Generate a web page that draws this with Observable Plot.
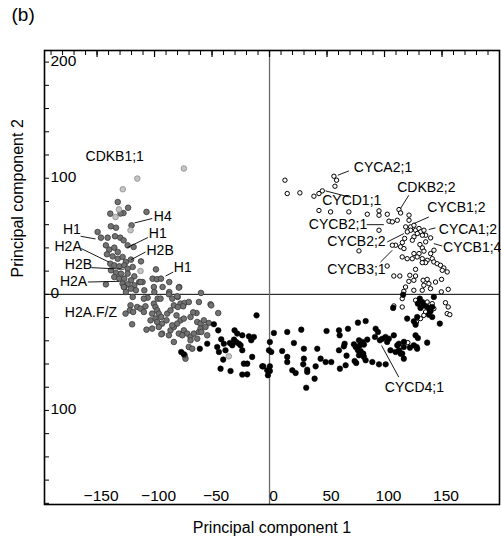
<!DOCTYPE html>
<html><head><meta charset="utf-8">
<script src="https://cdn.jsdelivr.net/npm/d3@7"></script>
<script src="https://cdn.jsdelivr.net/npm/@observablehq/plot@0.6"></script>
<style>html,body{margin:0;padding:0;background:#fff;} svg{display:block;}</style>
</head><body><div id="chart"></div>
<script>
// Principal component scores [PC1, PC2] per gene group
const lightGrayPts = [[-74.5,108.4],[-115,99.7],[-127.6,90.5],[-131,73.2],[-133.9,66.6],[-120.9,55.2],[-112.2,20.1],[-35.4,-53.4]];
const grayPts = [[-132,79.5],[-123,74.6],[-127,70],[-138.5,69.5],[-107,71],[-120,59.4],[-138,58.6],[-133.5,57.4],[-149.5,53.7],[-146.6,48.8],[-140.8,48.8],[-134.4,50],[-129.8,48.8],[-126.9,46.5],[-123.4,42.2],[-118.2,40.8],[-142.3,42.2],[-139.4,38.5],[-135,40.2],[-132,36.5],[-141.4,34.5],[-136.5,32.7],[-132,30.7],[-127.8,32.2],[-124.9,27.9],[-120.5,29.9],[-111.8,28.4],[-138.5,26.4],[-135,25],[-130.7,24.1],[-126.3,25],[-123.4,22.1],[-119,23.6],[-137.9,20.7],[-133.5,18.4],[-129.2,17.8],[-123.4,17.8],[-117.6,15.5],[-135,14.9],[-130.7,13.5],[-126.3,13.5],[-120.5,12.1],[-113.3,10.6],[-142.3,8.6],[-127.8,9.2],[-123.4,8.6],[-117.6,7.8],[-110.4,10.6],[-101.7,13.5],[-97.9,13],[-94.4,13.5],[-87.2,10.6],[-98.8,21.5],[-93,6.3],[-87.2,2],[-78.5,6.3],[-126.3,6.3],[-120.5,4.9],[-124.9,2],[-116.2,3.5],[-108.9,3.5],[-100.2,2],[-79.9,-2.3],[-59.6,1.2],[-119,-2.3],[-106,-2.9],[-97.3,-3.7],[-129.6,69.6],[-51.3,-8.6],[-44.6,-16.1],[-126.7,6.3],[-112.2,10.6],[-100.6,6.3],[-78.9,5.8],[-109.3,-3.7],[-94.8,-3.7],[-87.5,0.0],[-84.6,-3.7],[-80.3,-1.7],[-77.4,-8.0],[-73.9,-7.4],[-70.2,-6.6],[-83.2,-9.5],[-79.7,-10.9],[-75.1,-10.3],[-61.4,-6.6],[-50.7,-9.5],[-120.9,-9.5],[-121.5,-13.8],[-125.2,-16.6],[-118.6,-15.2],[-115.1,-10.9],[-112.2,-12.3],[-109.3,-15.2],[-107.9,-10.3],[-100.6,-8.0],[-99.2,-10.9],[-97.7,-13.8],[-102.1,-16.6],[-96.3,-16.6],[-94.2,-19.5],[-99.2,-20.9],[-103.5,-22.4],[-97.7,-23.8],[-93.4,-25.2],[-89.6,-22.4],[-89.0,-16.6],[-86.1,-13.8],[-80.9,-18.1],[-77.4,-22.4],[-74.5,-20.9],[-68.7,-19.5],[-63.5,-16.1],[-66.4,-15.5],[-62.9,-23.8],[-60.0,-25.2],[-57.1,-22.4],[-52.8,-24.7],[-119.5,-25.8],[-107.0,-30.4],[-102.1,-29.5],[-96.3,-28.1],[-93.4,-33.8],[-86.1,-31.0],[-83.2,-28.1],[-80.3,-25.2],[-78.9,-33.8],[-84.6,-26.7],[-74.5,-31.0],[-71.6,-33.8],[-68.7,-36.7],[-65.8,-33.8],[-61.4,-32.4],[-60.0,-29.5],[-55.7,-28.1],[-54.2,-35.3],[-62.9,-38.2],[-68.7,-39.6],[-83.2,-41.0],[-70.2,-45.3],[-67.2,-46.8],[-73.1,-55.4],[-94.1,-34.4],[-87.5,-35.3],[-75.9,-35.3],[-59.3,-32.4],[-73.8,-52.5]];
const blackPts = [[-11.3,-18.1],[-48.4,-25.8],[-44.6,-31.0],[-42.0,-38.7],[-39.7,-42.5],[-34.5,-41.9],[-30.4,-31.0],[-28.1,-33.8],[-23.7,-35.3],[-29.0,-41.0],[-25.2,-43.9],[-38.3,-48.2],[-45.5,-45.3],[-44.0,-49.6],[-40.3,-56.2],[-32.4,-43.9],[-26.6,-42.5],[-23.7,-48.2],[-15.9,-39.6],[-13.6,-36.7],[-15.1,-53.9],[-22.3,-59.7],[-19.4,-59.7],[-6.3,-62.0],[-2.0,-65.4],[-42.6,-64.0],[-33.9,-66.0],[-23.7,-69.1],[-19.4,-68.9],[-54.2,-42.5],[-60.6,-46.8],[-76.8,-49.6],[-74.5,-51.6],[-30.9,-39],[-17.9,-36.2],
[3.8,-33.3],[15.4,-32.4],[27.6,-30.4],[0.3,-41.0],[-0.5,-48.2],[1.5,-49.6],[0.3,-62.0],[-5.5,-62],[0.3,-66],[-1.4,-69.7],[11.0,-48.8],[15.4,-53.9],[15.4,-58.3],[21.2,-41.9],[19.8,-65.4],[22.7,-67.7],[29.9,-46.8],[29.9,-55.4],[29.3,-60.3],[32.8,-64.9],[32.8,-66.9],[40.1,-62.0],[39.2,-72.6],[31.9,-80.4],[41.5,-46.8],[44.4,-55.4],[48.8,-58.3],[53.7,-58.3],[49.6,-31.6],[60.4,-31.0],[61.0,-35.3],[68.2,-29.6],[65.3,-42.5],[64.7,-44.8],[60.4,-48.2],[67.0,-52.8],[61.2,-64.0],[66.2,-61.1],[74.0,-57.4],[75.4,-59.1],[73.4,-43.0],[74.9,-45.3],[77.8,-39.6],[80.7,-41.0],[78.6,-43.9],[76.9,-48.2],[79.2,-48.8],[81.5,-51.1],[77.8,-52.5],[82.1,-53.9],[83.6,-56.8],[85.0,-39.0],[82.1,-43.3],[76.9,-24.4],[83.6,-23.0],[89.4,-58.3],[95.2,-60.3],[101,-60.3],[92.3,-29.6],[94.3,-32.4],[91.7,-36.7],[98.1,-38.2],[96,-39.6],[111.1,-43.9],[112.6,-48.2],[114,-51.1],[122.1,-45.9],[127.9,-45.3],
[116.2,-0.3],[107.5,-11.7],[130.7,-3.7],[132.8,-6.6],[129,-8],[134.2,-9.5],[131.3,-11.7],[137.1,-10.9],[139.4,-12.9],[141.5,-10.9],[142.9,-2.3],[140,-14.6],[138.6,-17.5],[141.5,-19.5],[128.4,-19.5],[125.5,-23.2],[119.7,-20.9],[127,-26.1],[148.1,-25.2],[100.9,-36.7],[103.8,-38.2],[102.3,-41],[108.1,-35.3],[112.5,-42.5],[116.8,-45.3],[115.4,-51.1],[105.2,-48.2],[109.6,-49.6],[127,-35.3],[129,-37.6],[125.5,-43.9],[128.4,-46.8],[137.1,-41.6],[116.8,-55.4],[116.9,-40.9]];
const openPts = [[13.4,98.3],[15.4,86.8],[26.4,87.4],[38.6,84.5],[43,86.8],[45.9,89.1],[43,72.2],[53.1,71],[69,71],[56,101.7],[58.3,98.3],[56.9,93.1],[77.8,37.4],[85,69],[95.2,68.1],[95.2,55.2],[102.4,69],[95.2,71.9],[103.9,63],[111.1,63.8],[112.6,73],[114,70.1],[106.8,62.4],[149.4,2.1],
[121.3,68.2],[121.3,63.8],[118.4,58.1],[122.7,58.1],[125.6,59.5],[127,55.2],[122.7,55.2],[119.8,53.8],[130,56.7],[131.4,53.8],[134.3,55.2],[135.8,50.9],[132.9,50.9],[128.5,52.4],[125.6,49.5],[124.2,46.6],[117.5,48.1],[115.5,44.6],[114,40.9],[116.9,39.4],[109.7,42.3],[106.8,42.3],[140.1,48.6],[135.8,45.2],[130.8,42.9],[132.9,40],[134.3,37.2],[130,35.1],[125.6,35.1],[140.1,35.1],[143,38],
[102.3,24.4],[108.1,15.8],[113.3,15.8],[116.8,2.6],[115.4,-3.7],[118.3,6.3],[121.2,11.2],[125.5,12.1],[122,16.4],[127,15.8],[127,21.5],[125.5,3.5],[132.8,3.5],[134.2,7.8],[133.6,12.1],[137.1,12.9],[138.6,9.2],[140,4.9],[144.4,10.6],[149.6,12.9],[155.4,4.3],[127,-5.1],[137.1,-6.6],[141.5,-8],[142.9,-12.3],[135.7,-15.2],[134.2,-18.1],[131.3,-20.9],[127.8,-23.8],[153,-7.2],[155.4,-10.9],[154.5,-16.6],[156.8,-17.5],[108.1,-10],[115.4,-10.9],[120.3,-41.6],[115.4,32.2],[119.7,30.7],[124.1,30.7],[128.4,32.2],[132.8,30.7],[137.1,29.3],[135.7,27.3],[132.8,27.3],[141.5,30.7],[142.9,27.9],[145.8,26.4],[148.7,25],[151.6,22.7],[154.5,19.3],[150.2,20.7]];

// Axis ticks and labels
const yTickVals = d3.range(-180, 201, 20);
const yLabelVals = [200, 100, 0, -100];
const xMinorTicks = d3.range(-190, 200, 10);
const xMajorTicks = [-150, -100, -50, 0, 50, 100, 150];
const xLabelVals = [-150, -100, -50, 0, 50, 100, 150];

// Gene annotations: label anchor and leader line (PC units)
const annotations = [
  {text:"CDKB1;1", x:-160, y:118.4},
  {text:"H4", x:-100.6, y:66.6, x1:-117.4, y1:61.5, x2:-102, y2:65.3},
  {text:"H1", x:-179.7, y:55.8, x1:-164.3, y1:50, x2:-151.3, y2:47.7},
  {text:"H1", x:-105, y:52.8, x1:-105.8, y1:48.9, x2:-123.7, y2:40.3},
  {text:"H2A", x:-187, y:40.8, x1:-163.7, y1:39.4, x2:-139.7, y2:27.8},
  {text:"H2B", x:-107, y:37.9, x1:-107.8, y1:36.5, x2:-120.3, y2:29.9},
  {text:"H2B", x:-178, y:25.9, x1:-155, y1:23, x2:-126.7, y2:21.6},
  {text:"H2A", x:-182.3, y:11.2, x1:-158, y1:10.6, x2:-131, y2:11.2},
  {text:"H1", x:-83.2, y:23, x1:-83.7, y1:19.2, x2:-90.4, y2:15.8},
  {text:"H2A.F/Z", x:-178, y:-15.8},
  {text:"CYCA2;1", x:73.3, y:109.2, x1:59.4, y1:102.6, x2:69, y2:106.3},
  {text:"CYCD1;1", x:45.8, y:80.4, x1:48.7, y1:89.1, x2:69, y2:83.9},
  {text:"CDKB2;2", x:111, y:91.6, x1:121.1, y1:85.3, x2:113.9, y2:73.9},
  {text:"CYCB1;2", x:137.1, y:74.7, x1:138.5, y1:66.6, x2:125.5, y2:60.9},
  {text:"CYCA1;2", x:147.2, y:56, x1:144.3, y1:57.2, x2:138.5, y2:55.8},
  {text:"CYCB2;1", x:34.2, y:60, x1:84.5, y1:60, x2:99.4, y2:60},
  {text:"CYCB2;2", x:50.2, y:45.1, x1:102.3, y1:45.1, x2:116.8, y2:52.3},
  {text:"CYCB1;4", x:150.9, y:40, x1:150.2, y1:41.6, x2:142.9, y2:43.7},
  {text:"CYCB3;1", x:50.2, y:21.6, x1:96.5, y1:27.8, x2:106.7, y2:37.9},
  {text:"CYCD4;1", x:100.3, y:-80.4, x1:112.4, y1:-71.3, x2:97.4, y2:-44}
];

const FONT = "'Liberation Sans', Arial, Helvetica, sans-serif";
const fmtX = d => d < 0 ? "\u2212" + (-d) : String(d);

const chart = Plot.plot({
  width: 501, height: 540,
  marginLeft: 44, marginRight: 2, marginTop: 50, marginBottom: 36,
  x: {domain: [-195.7, 200], axis: null},
  y: {domain: [-181, 210], axis: null},
  style: {fontFamily: FONT, background: "white", color: "black"},
  marks: [
    Plot.ruleY([0], {stroke: "black", strokeWidth: 1}),
    Plot.ruleX([0], {stroke: "#6a6a6a", strokeWidth: 1.3}),
    Plot.tickY(yTickVals, {y: d => d, insetRight: 450, stroke: "black", strokeWidth: 1}),
    Plot.tickX(xMinorTicks, {x: d => d, insetBottom: 449, stroke: "black", strokeWidth: 1}),
    Plot.tickX(xMajorTicks, {x: d => d, insetBottom: 447, stroke: "black", strokeWidth: 1.2}),
    Plot.dot(grayPts, {x: d => d[0], y: d => d[1], r: 2.8, fill: "#727272", stroke: "#3a3a3a", strokeWidth: 0.8}),
    Plot.dot(lightGrayPts, {x: d => d[0], y: d => d[1], r: 2.8, fill: "#c4c4c4", stroke: "#8a8a8a", strokeWidth: 0.8}),
    Plot.dot(openPts, {x: d => d[0], y: d => d[1], r: 2.2, fill: "white", stroke: "black", strokeWidth: 1}),
    Plot.dot(blackPts, {x: d => d[0], y: d => d[1], r: 2.8, fill: "black", stroke: "black", strokeWidth: 0.5}),
    Plot.link(annotations.filter(d => d.x1 != null), {x1: "x1", y1: "y1", x2: "x2", y2: "y2", stroke: "black", strokeWidth: 0.9}),
    Plot.text(annotations, {x: "x", y: "y", text: "text", textAnchor: "start", lineAnchor: "middle", fontSize: 14, fill: "black"}),
    Plot.text(yLabelVals, {y: d => d, text: d => String(Math.abs(d)), frameAnchor: "left", textAnchor: "start", lineAnchor: "middle", dx: 6, dy: -1, fontSize: 15.5, fill: "black"}),
    Plot.text(xLabelVals, {x: d => d, text: fmtX, frameAnchor: "bottom", lineAnchor: "middle", dy: -8, dx: 4, fontSize: 15.5, fill: "black"}),
    Plot.text(["Principal component 1"], {text: d => d, frameAnchor: "bottom", lineAnchor: "middle", dy: 23, fontSize: 16, fill: "black"}),
    Plot.text(["Principal component 2"], {text: d => d, frameAnchor: "left", rotate: -90, lineAnchor: "middle", dx: -27, fontSize: 16, fill: "black"}),
    Plot.text(["(b)"], {text: d => d, frameAnchor: "top-left", textAnchor: "start", lineAnchor: "middle", dx: -33, dy: -36, fontSize: 19, fill: "black"}),
    Plot.frame({stroke: "black", strokeWidth: 1.6})
  ]
});
document.getElementById("chart").appendChild(chart);
</script>
</body></html>
